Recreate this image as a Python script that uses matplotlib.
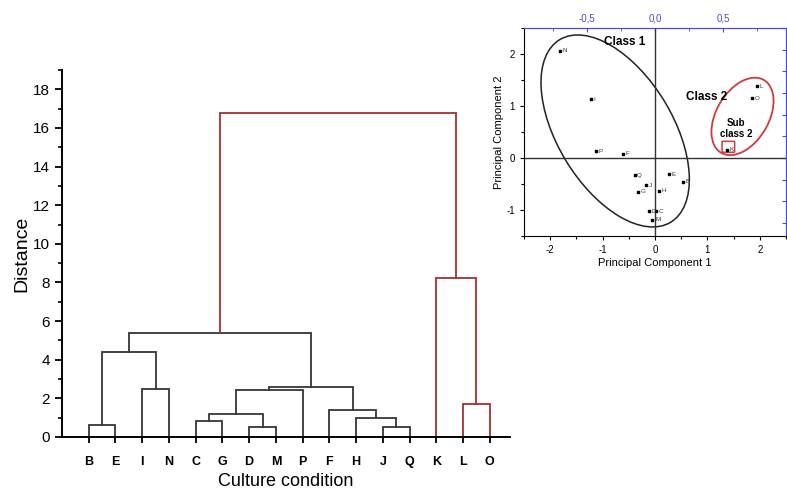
import matplotlib
matplotlib.use("Agg")
import matplotlib.pyplot as plt
from matplotlib.patches import Ellipse, FancyBboxPatch
from matplotlib.ticker import MultipleLocator, NullFormatter

plt.rcParams['font.family'] = ['Liberation Sans', 'DejaVu Sans']
plt.rcParams['axes.unicode_minus'] = False

# Dendrogram data
leaves = ['B', 'E', 'I', 'N', 'C', 'G', 'D', 'M', 'P', 'F', 'H', 'J', 'Q', 'K', 'L', 'O']
# merges: ids 0..15 are leaves, merge k gets id 16+k
merge_left = ['B', 'I', 16, 'C', 'D', 19, 21, 'J', 'H', 'F', 22, 18, 'L', 'K', 27]
merge_right = ['E', 'N', 17, 'G', 'M', 20, 'P', 'Q', 23, 24, 25, 26, 'O', 28, 29]
merge_height = [0.62, 2.5, 4.4, 0.82, 0.5, 1.18, 2.43, 0.5, 1.0, 1.38, 2.59, 5.4, 1.73, 8.25, 16.75]
red_merges = [28, 29, 30]

# PCA scores
pc_labels = ['N', 'I', 'P', 'F', 'Q', 'J', 'G', 'D', 'C', 'M', 'H', 'E', 'B', 'L', 'O', 'K']
pc1 = [-1.82, -1.22, -1.12, -0.62, -0.39, -0.17, -0.33, -0.12, 0.02, -0.05, 0.07, 0.27, 0.53, 1.95, 1.86, 1.38]
pc2 = [2.06, 1.13, 0.13, 0.08, -0.33, -0.52, -0.65, -1.02, -1.02, -1.19, -0.63, -0.31, -0.46, 1.38, 1.15, 0.16]

dark = '#363636'
red = '#a3302f'

fig = plt.figure(figsize=(7.87, 4.92), dpi=100)

# ---------------- dendrogram ----------------
ax = fig.add_axes([0.0788, 0.1118, 0.569, 0.746])

def node_id(n):
    return leaves.index(n) if isinstance(n, str) else n

xpos = {i: i + 1 for i in range(len(leaves))}
ypos = {i: 0.0 for i in range(len(leaves))}
for k in range(len(merge_height)):
    a, b, h = node_id(merge_left[k]), node_id(merge_right[k]), merge_height[k]
    mid = 16 + k
    col = red if mid in red_merges else dark
    xa, xb = xpos[a], xpos[b]
    ax.plot([xa, xa, xb, xb], [ypos[a], h, h, ypos[b]], color=col, lw=1.3,
            solid_joinstyle='miter', clip_on=False)
    xpos[mid] = (xa + xb) / 2
    ypos[mid] = h

ax.set_xlim(0, 16.75)
ax.set_ylim(0, 19)
ax.spines['top'].set_visible(False)
ax.spines['right'].set_visible(False)
for s in ['left', 'bottom']:
    ax.spines[s].set_linewidth(1.4)
ax.set_xticks(range(1, len(leaves) + 1))
ax.set_xticklabels(leaves, fontsize=9, fontweight='bold')
ax.set_yticks(range(0, 19, 2))
ax.yaxis.set_minor_locator(MultipleLocator(1))
ax.tick_params(axis='y', labelsize=11, length=5, width=1.3)
ax.tick_params(axis='y', which='minor', length=3, width=1.2)
ax.tick_params(axis='x', length=4, width=1.3, pad=10)
ax.set_ylabel('Distance', fontsize=14, labelpad=2)
ax.set_xlabel('Culture condition', fontsize=13, labelpad=3)

# ---------------- PCA inset ----------------
ins = fig.add_axes([524 / 787, 1 - 236 / 492, 262 / 787, 208 / 492])
ins.set_xlim(-2.5, 2.5)
ins.set_ylim(-1.5, 2.5)
ins.axhline(0, color='#333333', lw=1)
ins.axvline(0, color='#333333', lw=1)

ins.scatter(pc1, pc2, marker='s', s=4, color='black', zorder=3)
for lab, x, y in zip(pc_labels, pc1, pc2):
    ins.text(x + 0.05, y, lab, fontsize=4.5, va='center', ha='left', color='#333333')

ins.add_patch(Ellipse((-0.76, 0.52), 4.1, 2.2, angle=-59, fill=False,
                      edgecolor='#222222', lw=1.1))
ins.add_patch(Ellipse((1.67, 0.80), 1.62, 1.0, angle=60, fill=False,
                      edgecolor='#d03a3a', lw=1.3))
ins.add_patch(FancyBboxPatch((1.29, 0.12), 0.22, 0.19, boxstyle='round,pad=0.01',
                             fill=False, edgecolor='#d03a3a', lw=1.1))

ins.text(-0.58, 2.23, 'Class 1', fontsize=8.5, fontweight='bold', ha='center', va='center')
ins.text(0.98, 1.17, 'Class 2', fontsize=8.5, fontweight='bold', ha='center', va='center')
ins.text(1.55, 0.56, 'Sub\nclass 2', fontsize=7, fontweight='bold', ha='center', va='center',
         linespacing=1.1)

ins.set_xticks([-2, -1, 0, 1, 2])
ins.set_yticks([-1, 0, 1, 2])
ins.xaxis.set_minor_locator(MultipleLocator(0.5))
ins.yaxis.set_minor_locator(MultipleLocator(0.5))
ins.tick_params(labelsize=7, length=3, width=0.8)
ins.tick_params(which='minor', length=2, width=0.8)
ins.set_xlabel('Principal Component 1', fontsize=8, labelpad=2)
ins.set_ylabel('Principal Component 2', fontsize=8, labelpad=2)

blue = '#4a4ad0'
ins.spines['top'].set_color(blue)
ins.spines['right'].set_color(blue)

k_top = 0.385
top = ins.secondary_xaxis('top', functions=(lambda x: x * k_top, lambda x: x / k_top))
top.set_xticks([-0.5, 0.0, 0.5])
top.set_xticklabels(['-0,5', '0,0', '0,5'])
top.xaxis.set_minor_locator(MultipleLocator(0.25))
top.tick_params(colors=blue, labelsize=7, direction='in', length=3, width=0.8)
top.tick_params(which='minor', colors=blue, direction='in', length=2)
top.spines['top'].set_color(blue)

k_right = 0.6
right = ins.secondary_yaxis('right', functions=(lambda y: y * k_right, lambda y: y / k_right))
right.yaxis.set_major_locator(MultipleLocator(0.25))
right.yaxis.set_major_formatter(NullFormatter())
right.tick_params(colors=blue, direction='in', length=3, width=0.8)
right.spines['right'].set_color(blue)

fig.savefig('out.png', dpi=100)
